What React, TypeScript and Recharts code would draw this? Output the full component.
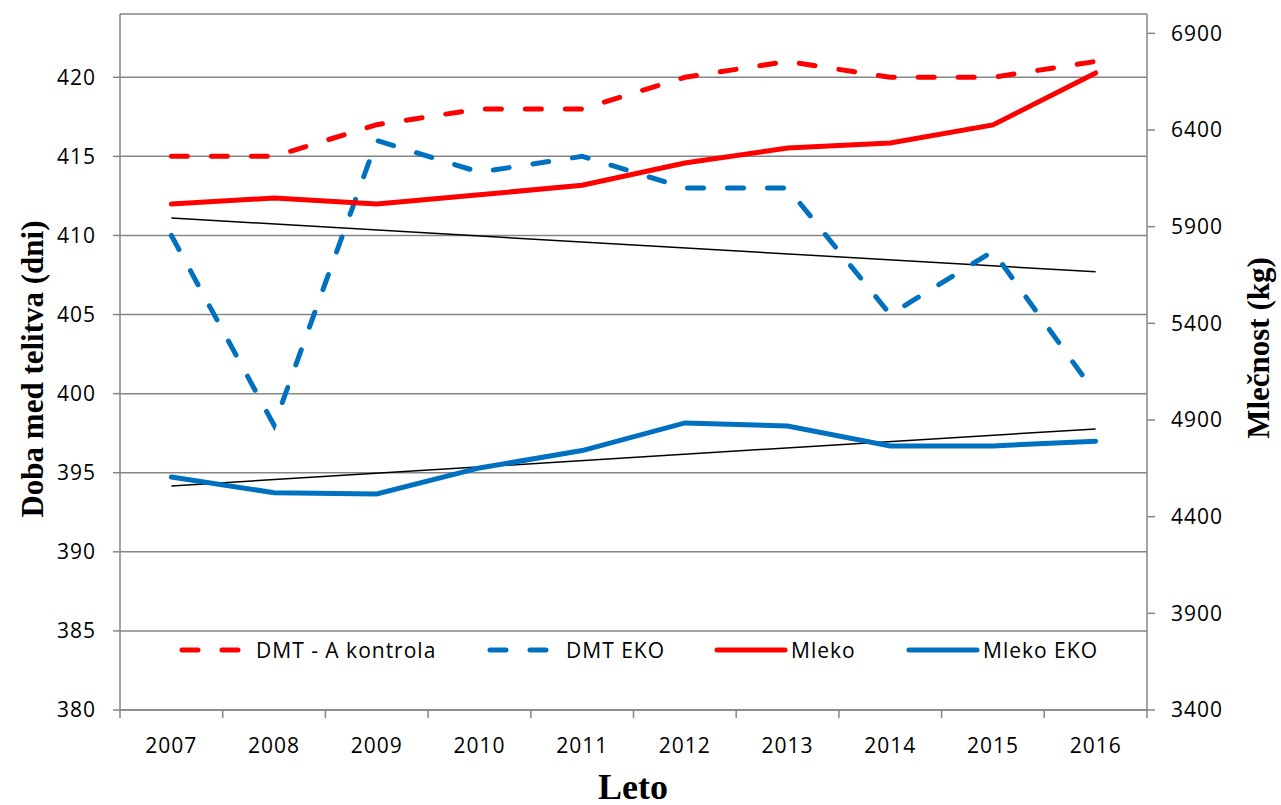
import { LineChart, Line, XAxis, YAxis, CartesianGrid } from "recharts";

// ── Data ──────────────────────────────────────────────────────────────────────

const YEARS = ["2007", "2008", "2009", "2010", "2011", "2012", "2013", "2014", "2015", "2016"];
const DMT_A = [415, 415, 417, 418, 418, 420, 421, 420, 420, 421];
const DMT_EKO = [410, 398, 416, 414, 415, 413, 413, 405, 409, 400];
const MLEKO = [6017, 6048, 6017, 6065, 6114, 6229, 6307, 6333, 6426, 6695];
const MLEKO_EKO = [4605, 4524, 4517, 4652, 4742, 4885, 4869, 4766, 4766, 4790];
const TREND_DMT_EKO = [411.1, null, null, null, null, null, null, null, null, 407.7];
const TREND_MLEKO_EKO = [4559, null, null, null, null, null, null, null, null, 4854];
const LEFT_TICKS = [380, 385, 390, 395, 400, 405, 410, 415, 420];
const RIGHT_TICKS = [3400, 3900, 4400, 4900, 5400, 5900, 6400, 6900];

const rows = YEARS.map((year, i) => ({
    year,
    dmtA: DMT_A[i],
    dmtEko: DMT_EKO[i],
    mleko: MLEKO[i],
    mlekoEko: MLEKO_EKO[i],
    trendDmt: TREND_DMT_EKO[i],
    trendMleko: TREND_MLEKO_EKO[i],
}));

// ── Layout ────────────────────────────────────────────────────────────────────

const W = 1281;
const H = 805;
const LEFT_W = 120;
const RIGHT_W = 134;
const TOP = 14;
const X_H = 95;
const PLOT_BOTTOM = H - X_H;
const BAND = (W - LEFT_W - RIGHT_W) / YEARS.length;

const RED = "#ff0000";
const BLUE = "#0070c0";
const GREY = "#868686";
const TICK_FONT = "'Open Sans', 'Liberation Sans', sans-serif";
const TITLE_FONT = "'Liberation Serif', 'Times New Roman', serif";
const DASH = "16 24";
const TICK_STYLE = { fill: "#000", fontSize: 21, fontFamily: TICK_FONT, letterSpacing: 1 };

function YearTick(props: any) {
    const { x, payload, index } = props;
    const left = x - BAND / 2;
    return (
        <g>
            <line x1={left} x2={left} y1={PLOT_BOTTOM} y2={PLOT_BOTTOM + 8} stroke={GREY} strokeWidth={1.5} />
            {index === YEARS.length - 1 && (
                <line x1={x + BAND / 2} x2={x + BAND / 2} y1={PLOT_BOTTOM} y2={PLOT_BOTTOM + 8} stroke={GREY} strokeWidth={1.5} />
            )}
            <text x={x} y={745} textAnchor="middle" dominantBaseline="central"
                fontFamily={TICK_FONT} fontSize={21} letterSpacing={1} fill="#000">
                {payload.value}
            </text>
        </g>
    );
}

const LEGEND = [
    { label: "DMT - A kontrola", color: RED, dashed: true, left: 178, sw: 64, gap: 14 },
    { label: "DMT EKO", color: BLUE, dashed: true, left: 486, sw: 64, gap: 16 },
    { label: "Mleko", color: RED, dashed: false, left: 713, sw: 76, gap: 2 },
    { label: "Mleko EKO", color: BLUE, dashed: false, left: 905, sw: 76, gap: 2 },
];

export default function App() {
    return (
        <div style={{ position: "relative", width: W, height: H, background: "#fff" }}>
            <style>{`body{margin:0}`}</style>
            <LineChart width={W} height={H} data={rows} margin={{ top: TOP, right: 0, bottom: 0, left: 0 }}>
                <CartesianGrid yAxisId="left" vertical={false} stroke={GREY} strokeWidth={1.5} />
                <XAxis dataKey="year" height={X_H} interval={0} tickLine={false}
                    padding={{ left: BAND / 2, right: BAND / 2 }}
                    axisLine={{ stroke: GREY, strokeWidth: 1.5 }} tick={<YearTick />} />
                <YAxis yAxisId="left" width={LEFT_W} domain={[380, 424]} ticks={LEFT_TICKS}
                    allowDataOverflow tickSize={7} tickMargin={17}
                    axisLine={{ stroke: GREY, strokeWidth: 1.5 }} tickLine={{ stroke: GREY, strokeWidth: 1.5 }}
                    tick={TICK_STYLE} />
                <YAxis yAxisId="right" orientation="right" width={RIGHT_W} domain={[3400, 7000]} ticks={RIGHT_TICKS}
                    allowDataOverflow tickSize={8} tickMargin={16}
                    axisLine={{ stroke: GREY, strokeWidth: 1.5 }} tickLine={{ stroke: GREY, strokeWidth: 1.5 }}
                    tick={TICK_STYLE} />

                <Line yAxisId="left" dataKey="trendDmt" stroke="#000" strokeWidth={1.5} dot={false}
                    connectNulls isAnimationActive={false} />
                <Line yAxisId="right" dataKey="trendMleko" stroke="#000" strokeWidth={1.5} dot={false}
                    connectNulls isAnimationActive={false} />
                <Line yAxisId="left" dataKey="dmtA" stroke={RED} strokeWidth={5} strokeDasharray={DASH}
                    strokeLinecap="round" dot={false} type="linear" isAnimationActive={false} />
                <Line yAxisId="left" dataKey="dmtEko" stroke={BLUE} strokeWidth={5} strokeDasharray={DASH}
                    strokeLinecap="round" dot={false} isAnimationActive={false} />
                <Line yAxisId="right" dataKey="mleko" stroke={RED} strokeWidth={5} strokeLinecap="round"
                    dot={false} isAnimationActive={false} />
                <Line yAxisId="right" dataKey="mlekoEko" stroke={BLUE} strokeWidth={5} strokeLinecap="round"
                    dot={false} isAnimationActive={false} />
            </LineChart>

            {/* legend */}
            {LEGEND.map(l => (
                <div key={l.label} style={{ position: "absolute", left: l.left, top: 636, height: 28, display: "flex", alignItems: "center" }}>
                    <svg width={l.sw} height={10}>
                        <line x1={4} x2={l.sw - 4} y1={5} y2={5} stroke={l.color} strokeWidth={5} strokeLinecap="round"
                            strokeDasharray={l.dashed ? "16 24" : undefined} />
                    </svg>
                    <span style={{ marginLeft: l.gap, fontFamily: TICK_FONT, fontSize: 21, letterSpacing: 1, color: "#000", whiteSpace: "nowrap" }}>
                        {l.label}
                    </span>
                </div>
            ))}

            {/* axis titles */}
            <div style={{
                position: "absolute", left: 33, top: 369, transform: "translate(-50%, -50%) rotate(-90deg)",
                fontFamily: TITLE_FONT, fontWeight: "bold", fontSize: 31, whiteSpace: "nowrap", color: "#000",
            }}>Doba med telitva (dni)</div>
            <div style={{
                position: "absolute", left: 1259, top: 348, transform: "translate(-50%, -50%) rotate(-90deg)",
                fontFamily: TITLE_FONT, fontWeight: "bold", fontSize: 31, whiteSpace: "nowrap", color: "#000",
            }}>Mlečnost (kg)</div>
            <div style={{
                position: "absolute", left: 633, top: 787, transform: "translate(-50%, -50%)",
                fontFamily: TITLE_FONT, fontWeight: "bold", fontSize: 36, whiteSpace: "nowrap", color: "#000",
            }}>Leto</div>
        </div>
    );
}
